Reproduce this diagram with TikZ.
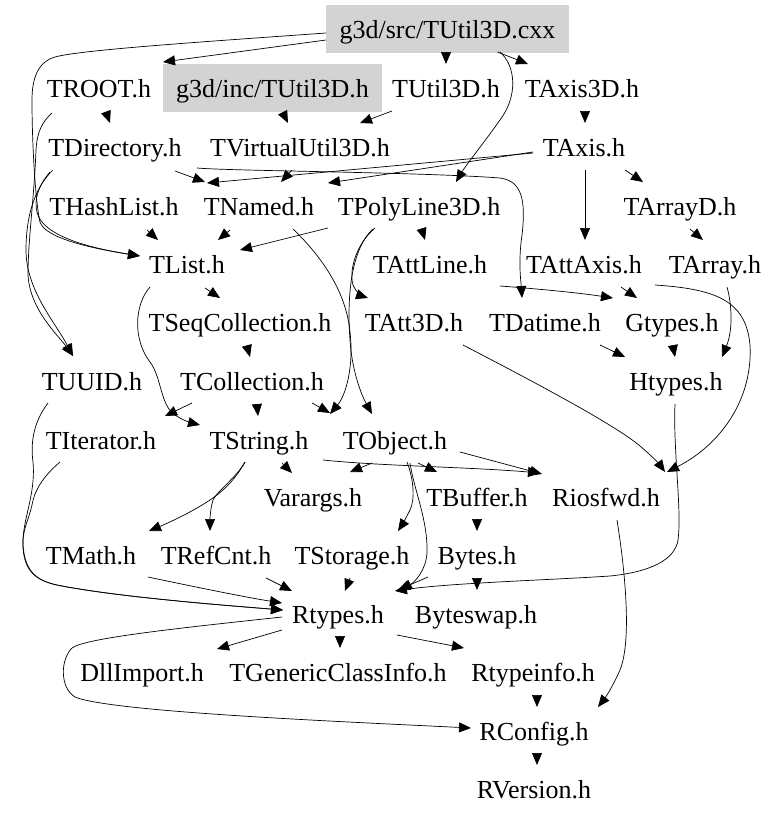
\documentclass[tikz,border=0pt]{standalone}
\usepackage{fontspec}
\setmainfont{Liberation Serif}
\usetikzlibrary{arrows.meta,calc}
\definecolor{boxgray}{RGB}{211,211,211}
\tikzset{
  lbl/.style={font=\fontsize{26}{31}\selectfont, text height=29pt, text depth=11pt, inner ysep=4pt, inner xsep=8pt},
  grayb/.style={lbl, fill=boxgray},
  e/.style={-{Triangle[length=12pt,width=10pt]}, line width=0.7pt, black}
}
\begin{document}
\begin{tikzpicture}[x=1pt,y=-1pt]
\useasboundingbox (0,0) rectangle (779,817);
% nodes
\node[grayb, minimum width=243pt] (src) at (447.5,29) {g3d/src/TUtil3D.cxx};
\node[lbl] (TROOT) at (99,88) {TROOT.h};
\node[grayb, minimum width=219pt] (inc) at (272.5,88) {g3d/inc/TUtil3D.h};
\node[lbl] (TUtilh) at (446,88) {TUtil3D.h};
\node[lbl] (TAxisD) at (582,88) {TAxis3D.h};
\node[lbl] (TDir) at (115,147) {TDirectory.h};
\node[lbl] (TVU) at (300,147) {TVirtualUtil3D.h};
\node[lbl] (TAxis) at (584,147) {TAxis.h};
\node[lbl] (THash) at (114,206) {THashList.h};
\node[lbl] (TNamed) at (259,206) {TNamed.h};
\node[lbl] (TPoly) at (419,206) {TPolyLine3D.h};
\node[lbl] (TArrayD) at (680,206) {TArrayD.h};
\node[lbl] (TList) at (187,264) {TList.h};
\node[lbl] (TAttLine) at (430,264) {TAttLine.h};
\node[lbl] (TAttAxis) at (584,264) {TAttAxis.h};
\node[lbl] (TArray) at (715,264) {TArray.h};
\node[lbl] (TSeq) at (240,322) {TSeqCollection.h};
\node[lbl] (TAtt3D) at (414,322) {TAtt3D.h};
\node[lbl] (TDatime) at (545,322) {TDatime.h};
\node[lbl] (Gtypes) at (672,322) {Gtypes.h};
\node[lbl] (TUUID) at (92,381) {TUUID.h};
\node[lbl] (TColl) at (252,381) {TCollection.h};
\node[lbl] (Htypes) at (676,381) {Htypes.h};
\node[lbl] (TIter) at (101,440) {TIterator.h};
\node[lbl] (TString) at (259,440) {TString.h};
\node[lbl] (TObject) at (395,440) {TObject.h};
\node[lbl] (Varargs) at (313,497) {Varargs.h};
\node[lbl] (TBuffer) at (477,497) {TBuffer.h};
\node[lbl] (Riosfwd) at (606,497) {Riosfwd.h};
\node[lbl] (TMath) at (91,555) {TMath.h};
\node[lbl] (TRefCnt) at (216,555) {TRefCnt.h};
\node[lbl] (TStorage) at (352,555) {TStorage.h};
\node[lbl] (Bytes) at (477,555) {Bytes.h};
\node[lbl] (Rtypes) at (338,614) {Rtypes.h};
\node[lbl] (Byteswap) at (476,614) {Byteswap.h};
\node[lbl] (DllImport) at (142,672) {DllImport.h};
\node[lbl] (TGCI) at (338,672) {TGenericClassInfo.h};
\node[lbl] (Rtypeinfo) at (533,672) {Rtypeinfo.h};
\node[lbl] (RConfig) at (534,731) {RConfig.h};
\node[lbl] (RVersion) at (534,789) {RVersion.h};
% edges: src
\draw[e] ($(src)+(-121.5,11)$) -- ($(TROOT)+(64,-26)$);
\draw[e] ($(src)+(-1.5,24)$) -- ($(TUtilh)+(0,-24)$);
\draw[e] ($(src)+(50,23)$) -- ($(TAxisD)+(-54,-24)$);
\draw[e] ($(src)+(52.5,23)$) .. controls (516,66) and (518,96) .. (500,120) .. controls (486,140) and (466,165) .. ($(TPoly)+(37,-24)$);
\draw[e] ($(src)+(-121.5,4)$) .. controls (200,42) and (80,50) .. (55,57) .. controls (38,62) and (32,78) .. (32,100) .. controls (32,150) and (36,205) .. (40,222) .. controls (45,238) and (90,248) .. ($(TList)+(-47,-8)$);
% TROOT
\draw[e] ($(TROOT)+(7,24)$) -- ($(TDir)+(-5,-24)$);
\draw[e] ($(TROOT)+(-47,25)$) .. controls (42,122) and (37,132) .. (36,150) .. controls (34,200) and (28,240) .. (28,275) .. controls (30,310) and (58,335) .. ($(TUUID)+(-19,-25)$);
% inc, TUtil3D.h, TAxis3D.h
\draw[e] ($(inc)+(10,24)$) -- ($(TVU)+(-12,-24)$);
\draw[e] ($(TUtilh)+(-54,23)$) -- ($(TVU)+(60,-24)$);
\draw[e] ($(TAxisD)+(3,24)$) -- ($(TAxis)+(1,-24)$);
% TDirectory
\draw[e] ($(TDir)+(60,24)$) -- ($(TNamed)+(-54,-24)$);
\draw[e] ($(TDir)+(-62,23)$) .. controls (38,184) and (26,210) .. (26,250) .. controls (26,290) and (55,322) .. ($(TUUID)+(-19,-25)$);
\draw[e] ($(TDir)+(-65,25)$) .. controls (38,186) and (34,200) .. (37,212) .. controls (42,236) and (90,248) .. ($(TList)+(-47,-8)$);
\draw[e] ($(TDir)+(82,21)$) .. controls (230,171) and (420,172) .. (500,178) .. controls (522,181) and (526,200) .. (522,235) .. controls (518,262) and (521,282) .. ($(TDatime)+(-23,-24)$);
% TVirtualUtil3D
\draw[e] ($(TVU)+(-8,23)$) -- ($(TNamed)+(22,-24)$);
% TAxis
\draw[e] ($(TAxis)+(-51,6)$) -- ($(TNamed)+(-52,-23)$);
\draw[e] ($(TAxis)+(-51,5)$) -- ($(TPoly)+(-91,-23)$);
\draw[e] ($(TAxis)+(1,23)$) -- ($(TAttAxis)+(1,-24)$);
\draw[e] ($(TAxis)+(41,23)$) -- ($(TArrayD)+(-37,-24)$);
% THashList, TNamed
\draw[e] ($(THash)+(33,24)$) -- ($(TList)+(-29,-24)$);
\draw[e] ($(TNamed)+(-29,24)$) -- ($(TList)+(31,-24)$);
\draw[e] ($(TNamed)+(34,23)$) .. controls (320,255) and (346,290) .. (350,332) .. controls (354,366) and (346,395) .. ($(TObject)+(-65,-26)$);
% TPolyLine3D
\draw[e] ($(TPoly)+(-91,22)$) -- ($(TList)+(53,-14)$);
\draw[e] ($(TPoly)+(3,24)$) -- ($(TAttLine)+(-5,-24)$);
\draw[e] ($(TPoly)+(-44,22)$) .. controls (355,245) and (349,272) .. (353,285) .. controls (356,292) and (362,296) .. ($(TAtt3D)+(-46,-24)$);
\draw[e] ($(TPoly)+(-46,23)$) .. controls (350,250) and (347,300) .. (350,340) .. controls (352,372) and (362,396) .. ($(TObject)+(-23,-26)$);
% TAttAxis, TAttLine, TArrayD, TArray
\draw[e] ($(TAttAxis)+(37,23)$) -- ($(Gtypes)+(-35,-24)$);
\draw[e] ($(TAttAxis)+(71,21)$) .. controls (715,289) and (746,300) .. (750,345) .. controls (753,400) and (720,445) .. ($(Riosfwd)+(61,-25)$);
\draw[e] ($(TAttLine)+(70,22)$) .. controls (540,289) and (580,293) .. ($(Gtypes)+(-59,-24)$);
\draw[e] ($(TArrayD)+(10,23)$) -- ($(TArray)+(-12,-24)$);
\draw[e] ($(TArray)+(12,23)$) .. controls (732,305) and (733,330) .. ($(Htypes)+(46,-24)$);
% TList
\draw[e] ($(TList)+(18,24)$) -- ($(TSeq)+(-20,-24)$);
\draw[e] ($(TList)+(-37,23)$) .. controls (134,305) and (133,340) .. (150,362) .. controls (162,378) and (160,405) .. (175,415) .. controls (184,421) and (192,423) .. ($(TString)+(-59,-15)$);
% TSeqCollection, TAtt3D, TDatime, Gtypes
\draw[e] ($(TSeq)+(7,24)$) -- ($(TColl)+(-2,-24)$);
\draw[e] ($(TAtt3D)+(49,23)$) .. controls (540,385) and (615,425) .. (640,446) .. controls (652,456) and (660,465) .. ($(Riosfwd)+(59,-25)$);
\draw[e] ($(TDatime)+(55,23)$) -- ($(Htypes)+(-51,-24)$);
\draw[e] ($(Gtypes)+(1,24)$) -- ($(Htypes)+(-1,-24)$);
% TUUID, TCollection, Htypes
\draw[e] ($(TUUID)+(-44,22)$) .. controls (35,420) and (30,440) .. (33,462) .. controls (36,495) and (22,520) .. (23,545) .. controls (25,575) and (40,582) .. (62,586) .. controls (120,597) and (220,605) .. ($(Rtypes)+(-55,-4)$);
\draw[e] ($(TColl)+(5,24)$) -- ($(TString)+(-1,-24)$);
\draw[e] ($(TColl)+(-60,22)$) -- ($(TIter)+(64,-24)$);
\draw[e] ($(TColl)+(60,22)$) -- ($(TObject)+(-65,-27)$);
\draw[e] ($(Htypes)+(-1,23)$) .. controls (673,450) and (682,510) .. (678,540) .. controls (675,560) and (650,572) .. (610,576) .. controls (550,580) and (450,583) .. ($(Rtypes)+(57,-23)$);
% TIterator
\draw[e] ($(TIter)+(-41,22)$) .. controls (45,475) and (35,488) .. (32,505) .. controls (28,522) and (22,530) .. (23,548) .. controls (25,575) and (40,582) .. (62,586) .. controls (120,597) and (220,605) .. ($(Rtypes)+(-55,-4)$);
% TString
\draw[e] ($(TString)+(23,23)$) -- ($(Varargs)+(-21,-24)$);
\draw[e] ($(TString)+(-14,22)$) .. controls (236,478) and (225,490) .. (210,500) .. controls (195,510) and (175,520) .. ($(TMath)+(58,-24)$);
\draw[e] ($(TString)+(-14,22)$) .. controls (236,478) and (218,490) .. (213,500) .. controls (210,510) and (210,520) .. ($(TRefCnt)+(-6,-24)$);
\draw[e] ($(TString)+(64,20)$) .. controls (380,466) and (470,467) .. ($(Riosfwd)+(-66,-24)$);
% TObject
\draw[e] ($(TObject)+(-23,23)$) -- ($(Varargs)+(37,-25)$);
\draw[e] ($(TObject)+(23,23)$) -- ($(TBuffer)+(-40,-25)$);
\draw[e] ($(TObject)+(65,12)$) -- ($(Riosfwd)+(-64,-23)$);
\draw[e] ($(TObject)+(12,22)$) .. controls (414,480) and (415,500) .. (410,510) .. controls (406,518) and (402,525) .. ($(TStorage)+(46,-24)$);
\draw[e] ($(TObject)+(15,23)$) .. controls (414,490) and (428,520) .. (427,553) .. controls (426,570) and (415,582) .. ($(Rtypes)+(62,-24)$);
% TBuffer, Riosfwd
\draw[e] ($(TBuffer)+(0,23)$) -- ($(Bytes)+(0,-24)$);
\draw[e] ($(Riosfwd)+(11,23)$) .. controls (625,570) and (632,640) .. (620,670) .. controls (612,688) and (605,698) .. ($(RConfig)+(64,-24)$);
% TMath, TRefCnt, TStorage, Bytes
\draw[e] ($(TMath)+(57,22)$) .. controls (200,588) and (250,598) .. ($(Rtypes)+(-56,-11)$);
\draw[e] ($(TRefCnt)+(50,23)$) -- ($(Rtypes)+(-46,-23)$);
\draw[e] ($(TStorage)+(-2,23)$) -- ($(Rtypes)+(7,-23)$);
\draw[e] ($(Bytes)+(0,23)$) -- ($(Byteswap)+(1,-24)$);
\draw[e] ($(Bytes)+(-49,22)$) -- ($(Rtypes)+(60,-24)$);
% Rtypes
\draw[e] ($(Rtypes)+(-56,16)$) -- ($(DllImport)+(75,-23)$);
\draw[e] ($(Rtypes)+(2,23)$) -- ($(TGCI)+(2,-24)$);
\draw[e] ($(Rtypes)+(59,21)$) -- ($(Rtypeinfo)+(-69,-24)$);
\draw[e] ($(Rtypes)+(-56,3)$) .. controls (180,628) and (85,638) .. (72,648) .. controls (60,660) and (60,688) .. (75,697) .. controls (110,712) and (350,722) .. ($(RConfig)+(-63,-3)$);
% Rtypeinfo, RConfig
\draw[e] ($(Rtypeinfo)+(4,23)$) -- ($(RConfig)+(3,-24)$);
\draw[e] ($(RConfig)+(3,23)$) -- ($(RVersion)+(3,-24)$);
\end{tikzpicture}
\end{document}
